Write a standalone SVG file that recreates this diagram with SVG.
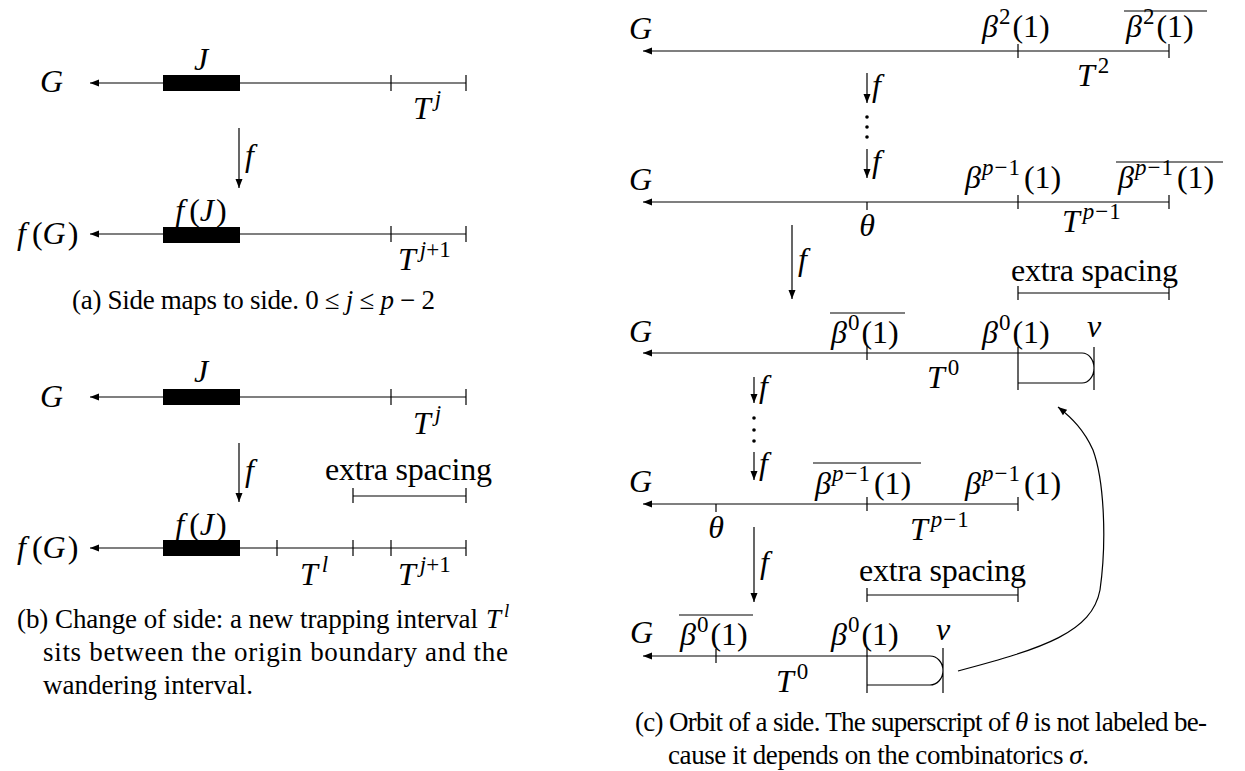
<svg xmlns="http://www.w3.org/2000/svg" width="1245" height="771" viewBox="0 0 1245 771">
<defs>
<style>
.ln{stroke:#000;stroke-width:1.2;fill:none}
.m{font-family:"Liberation Serif","Times New Roman",serif;font-style:italic;font-size:32px;fill:#000}
.u{font-style:normal}
.s{font-size:23px}
.t{font-family:"Liberation Serif","Times New Roman",serif;font-size:32px;fill:#000}
.cap{font-family:"Liberation Serif","Times New Roman",serif;font-size:27px;fill:#000}
.i{font-style:italic}
</style>
<marker id="ah" markerWidth="10" markerHeight="8" refX="9" refY="4" orient="auto" markerUnits="userSpaceOnUse"><path d="M0,0.5 L9,4 L0,7.5 z" fill="#000"/></marker>
</defs>
<rect width="1245" height="771" fill="#fff"/>

<!-- Panel (a) -->
<g id="a-top">
<text class="m" x="40" y="92">G</text>
<path class="ln" d="M466,83 H90" marker-end="url(#ah)"/>
<rect x="163" y="75" width="77" height="16" fill="#000"/>
<path class="ln" d="M391,75 V91 M466,75 V91"/>
<text class="m" x="201" y="70" text-anchor="middle">J</text>
<text class="m" x="413" y="119">T<tspan class="s" dx="4" dy="-13">j</tspan></text>
</g>
<g id="a-bottom">
<text class="m" x="17" y="244">f<tspan class="u" dx="6">(</tspan>G<tspan class="u" dx="2">)</tspan></text>
<path class="ln" d="M466,234 H90" marker-end="url(#ah)"/>
<rect x="163" y="227" width="77" height="16" fill="#000"/>
<path class="ln" d="M391,226 V242 M466,226 V242"/>
<text class="m" x="201" y="221" text-anchor="middle">f<tspan class="u" dx="5">(</tspan>J<tspan class="u" dx="2">)</tspan></text>
<text class="m" x="398" y="270">T<tspan class="s" dx="4" dy="-13">j</tspan><tspan class="s u">+1</tspan></text>
</g>
<text class="cap" x="72" y="309" textLength="363" lengthAdjust="spacing">(a) Side maps to side. 0 ≤ <tspan class="i">j</tspan> ≤ <tspan class="i">p</tspan> − 2</text>

<!-- Panel (b) -->
<g id="b-top">
<text class="m" x="40" y="407">G</text>
<path class="ln" d="M466,397 H90" marker-end="url(#ah)"/>
<rect x="163" y="389" width="77" height="16" fill="#000"/>
<path class="ln" d="M391,389 V405 M466,389 V405"/>
<text class="m" x="201" y="382" text-anchor="middle">J</text>
<text class="m" x="413" y="434">T<tspan class="s" dx="4" dy="-13">j</tspan></text>
</g>
<g id="b-extra">
<text class="t" x="325" y="480" textLength="167" lengthAdjust="spacing">extra spacing</text>
<path class="ln" d="M353,496 H466 M353,488 V503 M466,488 V503"/>
</g>
<g id="b-bottom">
<text class="m" x="17" y="558">f<tspan class="u" dx="6">(</tspan>G<tspan class="u" dx="2">)</tspan></text>
<path class="ln" d="M466,548 H90" marker-end="url(#ah)"/>
<rect x="163" y="540" width="77" height="16" fill="#000"/>
<path class="ln" d="M277,540 V556 M353,540 V556 M391,540 V556 M466,540 V556"/>
<text class="m" x="201" y="535" text-anchor="middle">f<tspan class="u" dx="5">(</tspan>J<tspan class="u" dx="2">)</tspan></text>
<text class="m" x="300" y="585">T<tspan class="s" dx="4" dy="-13">l</tspan></text>
<text class="m" x="398" y="585">T<tspan class="s" dx="4" dy="-13">j</tspan><tspan class="s u">+1</tspan></text>
</g>
<g id="b-caption">
<text class="cap" x="17" y="628" textLength="461" lengthAdjust="spacing">(b) Change of side: a new trapping interval</text>
<text class="cap i" x="486" y="628">T<tspan font-size="19" dx="3" dy="-11">l</tspan></text>
<text class="cap" x="43" y="661" textLength="465" lengthAdjust="spacing">sits between the origin boundary and the</text>
<text class="cap" x="43" y="694">wandering interval.</text>
</g>

<!-- Panel (c) -->
<g id="c-row1">
<text class="m" x="629" y="39">G</text>
<path class="ln" d="M1169,51 H643" marker-end="url(#ah)"/>
<path class="ln" d="M1018,44 V58 M1169,44 V58"/>
<text class="m" x="982" y="37">β<tspan class="s u" dx="1" dy="-13">2</tspan><tspan class="u" dx="2" dy="13">(1)</tspan></text>
<text class="m" x="1126" y="37">β<tspan class="s u" dx="1" dy="-13">2</tspan><tspan class="u" dx="2" dy="13">(1)</tspan></text>
<path class="ln" d="M1124,11 H1207"/>
<text class="m" x="1077" y="86">T<tspan class="s u" dx="3" dy="-13">2</tspan></text>
</g>
<g id="c-row2">
<text class="m" x="629" y="190">G</text>
<path class="ln" d="M1169,202 H643" marker-end="url(#ah)"/>
<path class="ln" d="M867,202 V210 M1018,195 V209 M1169,195 V209"/>
<text class="m" x="965" y="188">β<tspan class="s" dx="1" dy="-13">p</tspan><tspan class="s u" dx="1">−</tspan><tspan class="s u" dx="1">1</tspan><tspan class="u" dx="4" dy="13">(1)</tspan></text>
<text class="m" x="1118" y="188">β<tspan class="s" dx="1" dy="-13">p</tspan><tspan class="s u" dx="1">−</tspan><tspan class="s u" dx="1">1</tspan><tspan class="u" dx="4" dy="13">(1)</tspan></text>
<path class="ln" d="M1116,162 H1223"/>
<text class="m" x="867" y="236" text-anchor="middle">θ</text>
<text class="m" x="1062" y="232">T<tspan class="s" dx="3" dy="-13">p</tspan><tspan class="s u" dx="1">−</tspan><tspan class="s u" dx="1">1</tspan></text>
</g>
<g id="c-extra1">
<text class="t" x="1011" y="281" textLength="167" lengthAdjust="spacing">extra spacing</text>
<path class="ln" d="M1018,293 H1169 M1018,286 V300 M1169,286 V300"/>
</g>
<g id="c-row3">
<text class="m" x="629" y="342">G</text>
<path class="ln" d="M1082,353 H643" marker-end="url(#ah)"/>
<path class="ln" d="M867,346 V360"/>
<path class="ln" d="M1018,347 V390 M1018,383 H1082 A12,15 0 0 0 1082,353 M1094,347 V390"/>
<text class="m" x="831" y="343">β<tspan class="s u" dx="1" dy="-13">0</tspan><tspan class="u" dx="2" dy="13">(1)</tspan></text>
<path class="ln" d="M830,313 H905"/>
<text class="m" x="982" y="343">β<tspan class="s u" dx="1" dy="-13">0</tspan><tspan class="u" dx="2" dy="13">(1)</tspan></text>
<text class="m" x="1087" y="337">v</text>
<text class="m" x="927" y="388">T<tspan class="s u" dx="3" dy="-13">0</tspan></text>
</g>
<g id="c-row4">
<text class="m" x="629" y="492">G</text>
<path class="ln" d="M1018,504 H643" marker-end="url(#ah)"/>
<path class="ln" d="M716,504 V512 M867,497 V511 M1018,497 V511"/>
<text class="m" x="815" y="494">β<tspan class="s" dx="1" dy="-13">p</tspan><tspan class="s u" dx="1">−</tspan><tspan class="s u" dx="1">1</tspan><tspan class="u" dx="4" dy="13">(1)</tspan></text>
<path class="ln" d="M813,463 H921"/>
<text class="m" x="965" y="494">β<tspan class="s" dx="1" dy="-13">p</tspan><tspan class="s u" dx="1">−</tspan><tspan class="s u" dx="1">1</tspan><tspan class="u" dx="4" dy="13">(1)</tspan></text>
<text class="m" x="716" y="538" text-anchor="middle">θ</text>
<text class="m" x="910" y="540">T<tspan class="s" dx="3" dy="-13">p</tspan><tspan class="s u" dx="1">−</tspan><tspan class="s u" dx="1">1</tspan></text>
</g>
<g id="c-extra2">
<text class="t" x="859" y="581" textLength="167" lengthAdjust="spacing">extra spacing</text>
<path class="ln" d="M867,595 H1018 M867,588 V602 M1018,588 V602"/>
</g>
<g id="c-row5">
<text class="m" x="630" y="643">G</text>
<path class="ln" d="M930,656 H643" marker-end="url(#ah)"/>
<path class="ln" d="M716,649 V663"/>
<path class="ln" d="M867,648 V693 M867,685 H930 A13,14.5 0 0 0 930,656 M943,648 V693"/>
<text class="m" x="680" y="645">β<tspan class="s u" dx="1" dy="-13">0</tspan><tspan class="u" dx="2" dy="13">(1)</tspan></text>
<path class="ln" d="M679,615 H753"/>
<text class="m" x="831" y="645">β<tspan class="s u" dx="1" dy="-13">0</tspan><tspan class="u" dx="2" dy="13">(1)</tspan></text>
<text class="m" x="936" y="640">v</text>
<text class="m" x="776" y="692">T<tspan class="s u" dx="3" dy="-13">0</tspan></text>
</g>

<g id="connectors">
<path class="ln" d="M239,128 V188" marker-end="url(#ah)"/>
<text class="m" x="245" y="166">f</text>
<path class="ln" d="M239,443 V502" marker-end="url(#ah)"/>
<text class="m" x="245" y="481">f</text>
<path class="ln" d="M867,73 V103" marker-end="url(#ah)"/>
<text class="m" x="872" y="96">f</text>
<circle cx="867" cy="117" r="1.8"/><circle cx="867" cy="127" r="1.8"/><circle cx="867" cy="137" r="1.8"/>
<path class="ln" d="M867,149 V178" marker-end="url(#ah)"/>
<text class="m" x="872" y="172">f</text>
<path class="ln" d="M792,225 V299" marker-end="url(#ah)"/>
<text class="m" x="798" y="270">f</text>
<path class="ln" d="M754,377 V403" marker-end="url(#ah)"/>
<text class="m" x="759" y="397">f</text>
<circle cx="754" cy="418" r="1.8"/><circle cx="754" cy="430" r="1.8"/><circle cx="754" cy="441" r="1.8"/>
<path class="ln" d="M754,452 V480" marker-end="url(#ah)"/>
<text class="m" x="759" y="474">f</text>
<path class="ln" d="M754,527 V602" marker-end="url(#ah)"/>
<text class="m" x="760" y="573">f</text>
<path class="ln" d="M958,671 C1045,648 1092,632 1100,590 C1107,540 1104,480 1093,450 C1084,430 1072,418 1058,407" marker-end="url(#ah)"/>
</g>

<g id="c-caption">
<text class="cap" x="635" y="731" textLength="572" lengthAdjust="spacing">(c) Orbit of a side.  The superscript of <tspan class="i">θ</tspan> is not labeled be-</text>
<text class="cap" x="668" y="764" textLength="421" lengthAdjust="spacing">cause it depends on the combinatorics <tspan class="i">σ</tspan>.</text>
</g>
</svg>
